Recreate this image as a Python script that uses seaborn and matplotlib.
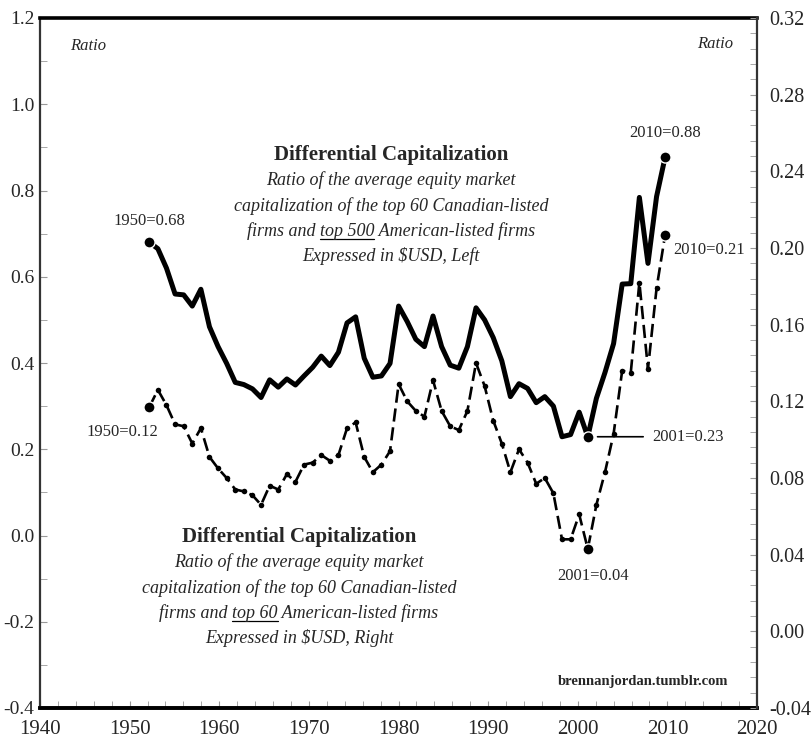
import matplotlib
matplotlib.use("Agg")
import matplotlib.pyplot as plt
import seaborn as sns
import pandas as pd
from matplotlib.lines import Line2D
from matplotlib.ticker import MultipleLocator, FormatStrFormatter

# Annual data, 1950-2010
years = list(range(1950, 2011))

# top 60 Canadian vs top 500 American (left axis)
ratio_top500 = [0.680, 0.665, 0.620, 0.560, 0.558, 0.532, 0.571, 0.484, 0.438, 0.399,
                0.355, 0.350, 0.340, 0.320, 0.361, 0.344, 0.363, 0.349, 0.370, 0.390,
                0.416, 0.394, 0.425, 0.493, 0.507, 0.411, 0.367, 0.370, 0.399, 0.532,
                0.496, 0.455, 0.438, 0.509, 0.438, 0.395, 0.388, 0.438, 0.528, 0.500,
                0.459, 0.405, 0.322, 0.352, 0.341, 0.308, 0.322, 0.300, 0.229, 0.234,
                0.286, 0.229, 0.318, 0.378, 0.445, 0.583, 0.584, 0.784, 0.631, 0.786,
                0.878]

# top 60 Canadian vs top 60 American (right axis)
ratio_top60 = [0.117, 0.126, 0.118, 0.108, 0.107, 0.098, 0.106, 0.091, 0.085, 0.080,
               0.074, 0.073, 0.071, 0.066, 0.076, 0.074, 0.082, 0.078, 0.087, 0.088,
               0.092, 0.089, 0.092, 0.106, 0.109, 0.091, 0.083, 0.087, 0.094, 0.129,
               0.120, 0.115, 0.112, 0.131, 0.115, 0.107, 0.105, 0.115, 0.140, 0.128,
               0.110, 0.098, 0.083, 0.095, 0.088, 0.077, 0.080, 0.072, 0.048, 0.048,
               0.061, 0.043, 0.066, 0.083, 0.103, 0.136, 0.135, 0.182, 0.137, 0.179,
               0.207]

marked_years = [1950, 2001, 2010]
x_ticks = list(range(1940, 2030, 10))

df = pd.DataFrame({"year": years, "top500": ratio_top500, "top60": ratio_top60})
marks = df[df["year"].isin(marked_years)]

sns.set_style("white")
plt.rcParams["font.family"] = ["Liberation Serif", "DejaVu Serif"]
plt.rcParams["axes.unicode_minus"] = False

W, H = 812, 740
fig = plt.figure(figsize=(W / 100, H / 100), dpi=100)
ax = fig.add_axes([40 / W, 32 / H, 717 / W, 690 / H])
ax2 = ax.twinx()

# data sits a little off the printed year scale in the original
ax.set_xlim(1937.29, 2020.68)

sns.lineplot(data=df, x="year", y="top500", ax=ax, color="black", linewidth=3.6)
sns.lineplot(data=df, x="year", y="top60", ax=ax2, color="black", linewidth=1.9,
             linestyle=(0, (5, 2.2)), marker="o", markersize=4, markeredgewidth=0)
ax.plot(marks["year"], marks["top500"], "o", color="black", markersize=8,
        markeredgecolor="white", markeredgewidth=1)
ax2.plot(marks["year"], marks["top60"], "o", color="black", markersize=8,
         markeredgecolor="white", markeredgewidth=1)

ax.set_ylim(-0.4, 1.2)
ax.yaxis.set_major_locator(MultipleLocator(0.2))
ax.yaxis.set_minor_locator(MultipleLocator(0.1))
ax.yaxis.set_major_formatter(FormatStrFormatter("%.1f"))
ax2.set_ylim(-0.04, 0.32)
ax2.yaxis.set_major_locator(MultipleLocator(0.04))
ax2.yaxis.set_minor_locator(MultipleLocator(0.008))
ax2.yaxis.set_major_formatter(FormatStrFormatter("%.2f"))

ax.set_xlabel("")
ax.set_ylabel("")
ax2.set_ylabel("")
ax.tick_params(axis="x", which="both", bottom=False, labelbottom=False)
ax.tick_params(axis="y", which="major", direction="in", length=5, color="#999999",
               labelsize=14, pad=4)
ax.tick_params(axis="y", which="minor", direction="in", length=5, color="#999999")
ax2.tick_params(axis="y", which="major", direction="in", length=5, color="#999999",
                labelsize=14.5, pad=9)
ax2.tick_params(axis="y", which="minor", direction="in", length=5, color="#999999")

span = ax.get_xlim()


def to_label(x):
    return 1940 + (x - span[0]) * 80 / (span[1] - span[0])


def to_data(v):
    return span[0] + (v - 1940) * (span[1] - span[0]) / 80


sec = ax.secondary_xaxis("bottom", functions=(to_label, to_data))
sec.set_xticks(x_ticks)
sec.xaxis.set_minor_locator(MultipleLocator(2))
sec.tick_params(axis="x", which="both", direction="in", length=5, color="#999999",
                labelsize=15, pad=9)
sec.spines["bottom"].set_linewidth(2.6)
sec.spines["bottom"].set_color("black")

for s in ["top", "bottom"]:
    ax.spines[s].set_linewidth(2.6)
    ax.spines[s].set_color("black")
ax.spines["left"].set_linewidth(1.6)
ax.spines["left"].set_color("#333333")
ax.spines["right"].set_visible(False)
for s in ["top", "bottom", "left"]:
    ax2.spines[s].set_visible(False)
ax2.spines["right"].set_linewidth(1.6)
ax2.spines["right"].set_color("#333333")

# point labels
ax.annotate("1950=0.68", xy=(1950, ratio_top500[0]), xytext=(0, 15.6),
            textcoords="offset points", ha="center", va="center", fontsize=12)
ax2.annotate("1950=0.12", xy=(1950, ratio_top60[0]), xytext=(-19.5, -18),
             textcoords="offset points", ha="center", va="center", fontsize=12)
ax.annotate("2010=0.88", xy=(2010, ratio_top500[-1]), xytext=(0, 17),
            textcoords="offset points", ha="center", va="center", fontsize=12)
ax2.annotate("2010=0.21", xy=(2010, ratio_top60[-1]), xytext=(31.7, -10.8),
             textcoords="offset points", ha="center", va="center", fontsize=12)
i01 = years.index(2001)
ax.annotate("2001=0.23", xy=(2001, ratio_top500[i01]), xytext=(72, 0),
            textcoords="offset points", ha="center", va="center", fontsize=12,
            arrowprops=dict(arrowstyle="-", color="black", lw=1.2,
                            shrinkA=4, shrinkB=7))
ax2.annotate("2001=0.04", xy=(2001, ratio_top60[i01]), xytext=(3.6, -19.4),
             textcoords="offset points", ha="center", va="center", fontsize=12)

fig.text(88 / W, 1 - 46 / H, "Ratio", style="italic", fontsize=12, ha="center", va="center")
fig.text(715 / W, 1 - 44 / H, "Ratio", style="italic", fontsize=12, ha="center", va="center")
fig.text(643 / W, 1 - 681 / H, "brennanjordan.tumblr.com", weight="bold", fontsize=10.5,
         ha="center", va="center")

renderer = fig.canvas.get_renderer()


def note_line(xc, yc, text, underline=None):
    t = fig.text(xc / W, 1 - yc / H, text, style="italic", fontsize=13,
                 ha="center", va="center")
    if underline is None:
        return
    bb = t.get_window_extent(renderer)
    pre = text[:text.index(underline) + len(underline)]
    t1 = fig.text(0, 0, pre, style="italic", fontsize=13)
    t2 = fig.text(0, 0, underline, style="italic", fontsize=13)
    w_pre = t1.get_window_extent(renderer).width
    w_part = t2.get_window_extent(renderer).width
    t1.remove()
    t2.remove()
    x1 = bb.x0 + w_pre
    x0 = x1 - w_part
    yl = bb.y0 + 1
    fig.add_artist(Line2D([x0 / W, x1 / W], [yl / H, yl / H], transform=fig.transFigure,
                          color="black", lw=0.9))


def note_block(xc, y0, which, side):
    fig.text(xc / W, 1 - y0 / H, "Differential Capitalization", weight="bold",
             fontsize=15, ha="center", va="center")
    note_line(xc, y0 + 25, "Ratio of the average equity market")
    note_line(xc, y0 + 51, "capitalization of the top 60 Canadian-listed")
    note_line(xc, y0 + 76, "firms and %s American-listed firms" % which, underline=which)
    note_line(xc, y0 + 101, "Expressed in $USD, %s" % side)


note_block(391, 155, "top 500", "Left")
note_block(299, 537, "top 60", "Right")

fig.savefig("out.png", dpi=100)
